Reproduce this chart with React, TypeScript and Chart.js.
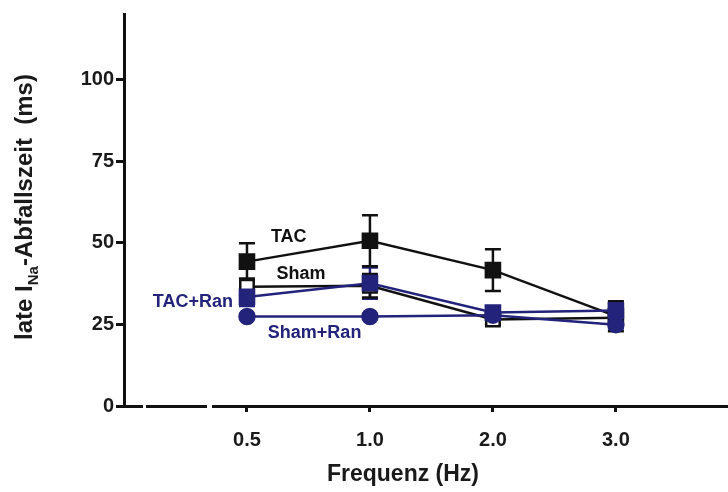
import React, { useEffect, useRef } from "react";
import { Chart, registerables } from "chart.js";

Chart.register(...registerables);

// Frequencies (plotted at equally spaced positions)
const xPositions = [1, 2, 3, 4];
const xTickLabels = ["0.5", "1.0", "2.0", "3.0"];
const yTickValues = [0, 25, 50, 75, 100];

// Series: mean and SEM (ms)
const tacMean = [44.2, 50.6, 41.6, 27.5];
const tacErr = [5.6, 7.8, 6.4, 4.6];
const shamMean = [36.5, 36.8, 26.5, 27.0];
const shamErr = [2.5, 3.6, 1.5, 1.8];
const tacRanMean = [33.4, 37.6, 28.6, 29.2];
const tacRanErr = [2.8, 4.8, 1.8, 2.4];
const shamRanMean = [27.4, 27.4, 27.8, 24.9];
const shamRanErr = [0.8, 0.8, 0.8, 1.2];

// Series labels written next to the curves (value coordinates)
const seriesLabels = [
  { text: "TAC", x: 1.34, y: 51.7, color: "#111111" },
  { text: "Sham", x: 1.44, y: 40.4, color: "#111111" },
  { text: "TAC+Ran", x: 0.56, y: 31.8, color: "#23237b" },
  { text: "Sham+Ran", x: 1.55, y: 22.3, color: "#23237b" },
];

const BLACK = "#111111";
const NAVY = "#23237b";
const FONT = "'Liberation Sans', Arial, Helvetica, sans-serif";

const toPts = (ys: number[]) => xPositions.map((x, i) => ({ x, y: ys[i] }));

const errorBarPlugin = {
  id: "errorBars",
  beforeDatasetsDraw(chart: any) {
    const ctx = chart.ctx;
    const xs = chart.scales.x;
    const ys = chart.scales.y;
    chart.data.datasets.forEach((ds: any) => {
      const errs: number[] = ds.errors;
      if (!errs) return;
      ctx.save();
      ctx.strokeStyle = ds.borderColor;
      ctx.lineWidth = 2.5;
      ds.data.forEach((p: any, i: number) => {
        const px = xs.getPixelForValue(p.x);
        const top = ys.getPixelForValue(p.y + errs[i]);
        const bot = ys.getPixelForValue(p.y - errs[i]);
        ctx.beginPath();
        ctx.moveTo(px, top);
        ctx.lineTo(px, bot);
        ctx.moveTo(px - 8, top);
        ctx.lineTo(px + 8, top);
        ctx.moveTo(px - 8, bot);
        ctx.lineTo(px + 8, bot);
        ctx.stroke();
      });
      ctx.restore();
    });
  },
};

const decorPlugin = {
  id: "decor",
  afterDraw(chart: any) {
    const ctx = chart.ctx;
    const xs = chart.scales.x;
    const ys = chart.scales.y;
    const ca = chart.chartArea;
    ctx.save();
    // extend x axis line to the right edge (aligned like Chart.js border)
    const yLine = Math.round(xs.top - 1.5) + 1.5;
    ctx.strokeStyle = "#111111";
    ctx.lineWidth = 3;
    ctx.beginPath();
    ctx.moveTo(ca.right - 6, yLine);
    ctx.lineTo(728, yLine);
    ctx.stroke();
    // axis breaks
    ctx.fillStyle = "#ffffff";
    ctx.fillRect(143, ca.bottom - 4, 3, 8);
    ctx.fillRect(207, ca.bottom - 4, 5, 8);

    // series labels
    ctx.font = `bold 18px ${FONT}`;
    ctx.textAlign = "center";
    ctx.textBaseline = "middle";
    seriesLabels.forEach((l) => {
      ctx.fillStyle = l.color;
      ctx.fillText(l.text, xs.getPixelForValue(l.x), ys.getPixelForValue(l.y));
    });

    // x title
    ctx.fillStyle = "#1a1a1a";
    ctx.font = `bold 23px ${FONT}`;
    ctx.fillText("Frequenz (Hz)", 403, 475);

    // y title with subscript
    ctx.translate(24, 207);
    ctx.rotate(-Math.PI / 2);
    const parts = [
      { t: "late I", size: 24, dy: 0 },
      { t: "Na", size: 15, dy: 6 },
      { t: "-Abfallszeit  (ms)", size: 24, dy: 0 },
    ];
    let total = 0;
    parts.forEach((p) => {
      ctx.font = `bold ${p.size}px ${FONT}`;
      total += ctx.measureText(p.t).width;
    });
    let cx = -total / 2;
    ctx.textAlign = "left";
    ctx.textBaseline = "alphabetic";
    parts.forEach((p) => {
      ctx.font = `bold ${p.size}px ${FONT}`;
      ctx.fillText(p.t, cx, 8 + p.dy);
      cx += ctx.measureText(p.t).width;
    });
    ctx.restore();
  },
};

export default function App() {
  const ref = useRef<HTMLCanvasElement | null>(null);
  useEffect(() => {
    if (!ref.current) return;
    const chart = new Chart(ref.current, {
      type: "line",
      data: {
        datasets: [
          {
            label: "Sham+Ran",
            data: toPts(shamRanMean),
            errors: shamRanErr,
            borderColor: NAVY,
            backgroundColor: NAVY,
            pointBackgroundColor: NAVY,
            pointBorderColor: NAVY,
            pointStyle: "circle",
            pointRadius: 7.5,
            borderWidth: 2.5,
          } as any,
          {
            label: "TAC+Ran",
            data: toPts(tacRanMean),
            errors: tacRanErr,
            borderColor: NAVY,
            backgroundColor: NAVY,
            pointBackgroundColor: NAVY,
            pointBorderColor: NAVY,
            pointStyle: "rect",
            pointRadius: 10,
            borderWidth: 2.5,
          } as any,
          {
            label: "TAC",
            data: toPts(tacMean),
            errors: tacErr,
            borderColor: BLACK,
            backgroundColor: BLACK,
            pointBackgroundColor: BLACK,
            pointBorderColor: BLACK,
            pointStyle: "rect",
            pointRadius: 10,
            borderWidth: 2.5,
          } as any,
          {
            label: "Sham",
            data: toPts(shamMean),
            errors: shamErr,
            borderColor: BLACK,
            backgroundColor: "#ffffff",
            pointBackgroundColor: "#ffffff",
            pointBorderColor: BLACK,
            pointBorderWidth: 2.5,
            pointStyle: "rect",
            pointRadius: 9.5,
            borderWidth: 2.5,
          } as any,
        ],
      },
      options: {
        responsive: false,
        animation: false,
        layout: { padding: { top: 14, right: 0, left: 0, bottom: 0 } },
        plugins: {
          legend: { display: false },
          tooltip: { enabled: false },
        },
        scales: {
          x: {
            type: "linear",
            min: 0,
            max: 4.81,
            afterBuildTicks: (s: any) => {
              s.ticks = xPositions.map((v) => ({ value: v }));
            },
            afterFit: (s: any) => {
              s.height = 86;
            },
            ticks: {
              autoSkip: false,
              maxRotation: 0,
              padding: 16,
              color: "#1a1a1a",
              font: { family: FONT, size: 20, weight: "bold" },
              callback: (v: any) => {
                const i = xPositions.indexOf(Number(v));
                return i >= 0 ? xTickLabels[i] : "";
              },
            },
            grid: {
              drawOnChartArea: false,
              drawTicks: true,
              tickLength: 6,
              lineWidth: 3,
              color: "#111111",
            },
            border: { display: true, width: 3, color: "#111111" },
          },
          y: {
            type: "linear",
            min: 0,
            max: 120,
            afterBuildTicks: (s: any) => {
              s.ticks = yTickValues.map((v) => ({ value: v }));
            },
            afterFit: (s: any) => {
              s.width = 124;
            },
            ticks: {
              padding: 2,
              color: "#1a1a1a",
              font: { family: FONT, size: 20, weight: "bold" },
            },
            grid: {
              drawOnChartArea: false,
              drawTicks: true,
              tickLength: 8,
              lineWidth: 3,
              color: "#111111",
            },
            border: { display: true, width: 3, color: "#111111" },
          },
        },
      } as any,
      plugins: [errorBarPlugin, decorPlugin],
    });
    return () => chart.destroy();
  }, []);
  return (
    <div style={{ position: "fixed", left: 0, top: 0, width: 728, height: 492, background: "#fff" }}>
      <canvas ref={ref} width={728} height={492} />
    </div>
  );
}
